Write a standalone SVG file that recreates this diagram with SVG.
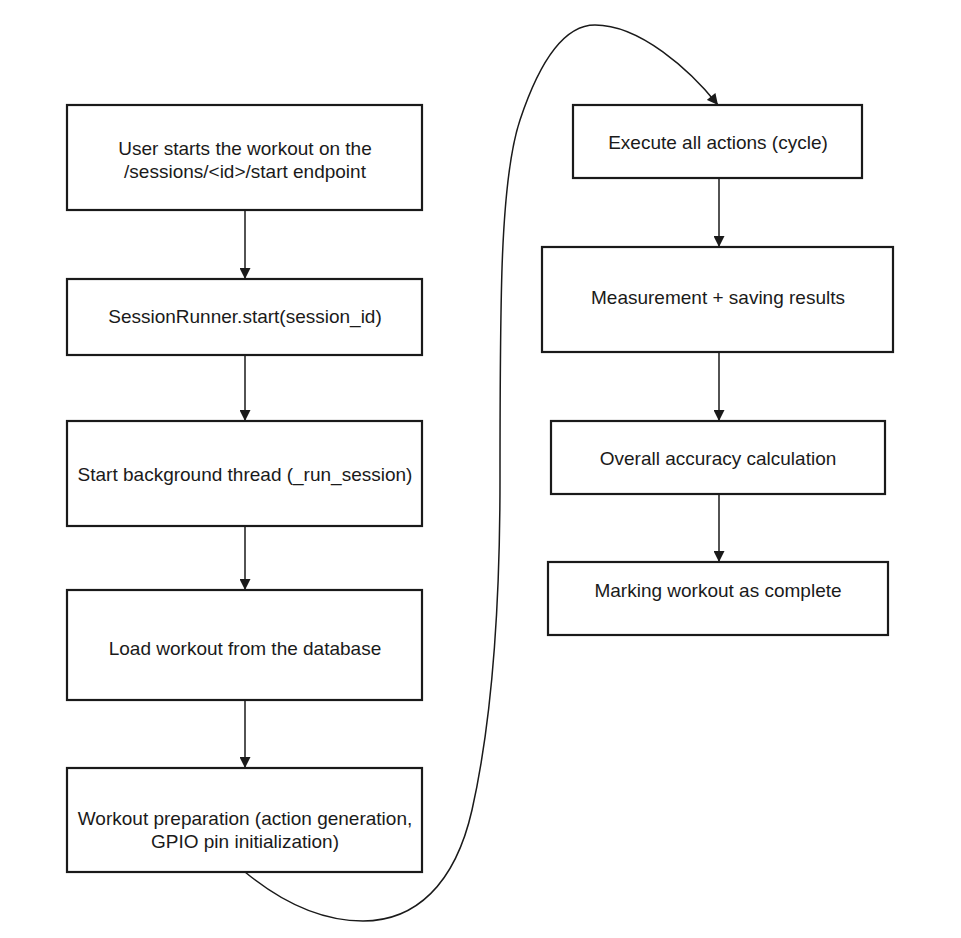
<svg xmlns="http://www.w3.org/2000/svg" width="961" height="938" viewBox="0 0 961 938">
<style>
.box{fill:#fff;stroke:#1a1a1a;stroke-width:2.2}
.lbl{font-family:"Liberation Sans",Arial,sans-serif;font-size:19px;fill:#1a1a1a;text-anchor:middle}
.con{fill:none;stroke:#1a1a1a;stroke-width:1.5}
</style>
<defs>
<marker id="ah" viewBox="0 0 10 10" refX="10" refY="5" markerUnits="userSpaceOnUse" markerWidth="12" markerHeight="11" orient="auto">
<path d="M0,0 L10,5 L0,10 z" fill="#1a1a1a"/>
</marker>
</defs>
<rect width="961" height="938" fill="#fff"/>
<g id="connectors">
<line class="con" x1="245" y1="210" x2="245" y2="279" marker-end="url(#ah)"/>
<line class="con" x1="245" y1="355" x2="245" y2="421" marker-end="url(#ah)"/>
<line class="con" x1="245" y1="526" x2="245" y2="590" marker-end="url(#ah)"/>
<line class="con" x1="245" y1="700" x2="245" y2="768" marker-end="url(#ah)"/>
<path class="con" d="M245,872 C285,905 325,921 363,921 C415,921 455,885 472,810 C490,730 500,620 500,480 C500,300 500,180 520,120 C540,60 565,25 595,25 C640,25 690,70 718,105" marker-end="url(#ah)"/>
<line class="con" x1="719" y1="178" x2="719" y2="247" marker-end="url(#ah)"/>
<line class="con" x1="719" y1="352" x2="719" y2="421" marker-end="url(#ah)"/>
<line class="con" x1="719" y1="494" x2="719" y2="562" marker-end="url(#ah)"/>
</g>
<g id="n1"><rect class="box" x="67" y="105" width="355" height="105"/>
<text class="lbl" x="245" y="155">User starts the workout on the</text>
<text class="lbl" x="245" y="178">/sessions/&lt;id&gt;/start endpoint</text></g>
<g id="n2"><rect class="box" x="67" y="279" width="355" height="76"/>
<text class="lbl" x="245" y="323">SessionRunner.start(session_id)</text></g>
<g id="n3"><rect class="box" x="67" y="421" width="355" height="105"/>
<text class="lbl" x="245" y="481">Start background thread (_run_session)</text></g>
<g id="n4"><rect class="box" x="67" y="590" width="355" height="110"/>
<text class="lbl" x="245" y="655">Load workout from the database</text></g>
<g id="n5"><rect class="box" x="67" y="768" width="355" height="104"/>
<text class="lbl" x="245" y="825">Workout preparation (action generation,</text>
<text class="lbl" x="245" y="848">GPIO pin initialization)</text></g>
<g id="n6"><rect class="box" x="573" y="105" width="289" height="73"/>
<text class="lbl" x="718" y="149">Execute all actions (cycle)</text></g>
<g id="n7"><rect class="box" x="542" y="247" width="351" height="105"/>
<text class="lbl" x="718" y="304">Measurement + saving results</text></g>
<g id="n8"><rect class="box" x="551" y="421" width="334" height="73"/>
<text class="lbl" x="718" y="465">Overall accuracy calculation</text></g>
<g id="n9"><rect class="box" x="548" y="562" width="340" height="73"/>
<text class="lbl" x="718" y="597">Marking workout as complete</text></g>
</svg>
